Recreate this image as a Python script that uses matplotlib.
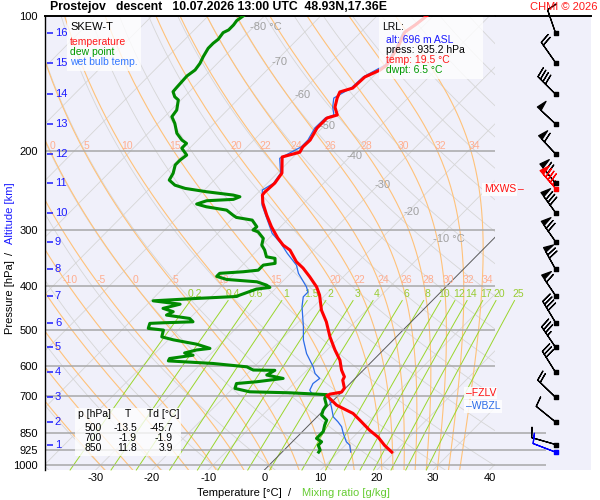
import numpy as np
import matplotlib
matplotlib.use('Agg')
import matplotlib.pyplot as plt
from matplotlib.transforms import Affine2D, blended_transform_factory, ScaledTranslation
from matplotlib.ticker import NullLocator
from matplotlib.patches import Rectangle

plt.rcParams['font.family'] = ['Liberation Sans', 'DejaVu Sans']
plt.rcParams['axes.unicode_minus'] = False

# ---- sounding (p in hPa, T in degC) ----
temp_p = [99.5, 104.7, 108.6, 117.2, 128.6, 131.9, 136.7, 144.7, 147.6, 152.3, 159.5, 166.1,
          168.7, 177.6, 188.9, 195.7, 201.0, 206.0, 223.7, 235.5, 246.6, 250.4, 260.9, 277.5,
          294.6, 312.1, 323.6, 332.0, 352.5, 364.1, 380.6, 400.8, 418.2, 451.9, 479.5, 518.0,
          554.0, 584.0, 614.0, 635.6, 646.7, 673.7, 687.6, 694.7, 700.0, 710.0, 735.0, 748.0,
          767.0, 794.0, 836.0, 867.0, 903.0, 935.2]
temp_t = [-51.1, -51.6, -52.2, -50.8, -49.6, -49.9, -51.4, -51.6, -53.2, -52.6, -51.4, -49.6,
          -50.9, -50.9, -50.0, -50.1, -49.7, -52.0, -49.2, -48.7, -48.9, -48.8, -47.3, -44.5,
          -41.6, -38.5, -36.3, -34.2, -31.0, -28.7, -26.0, -23.0, -21.0, -18.0, -15.1, -11.8,
          -8.6, -5.9, -3.9, -2.2, -1.9, -0.2, 0.0, -1.7, -2.0, -1.0, 1.4, 3.2,
          5.8, 8.2, 11.7, 14.5, 17.0, 19.5]

wetb_p = [99.5, 104.7, 109.1, 117.2, 128.6, 136.7, 144.7, 152.3, 159.5, 166.1, 168.7, 177.6,
          188.9, 195.7, 207.4, 224.0, 235.9, 244.0, 263.6, 284.7, 304.8, 320.8, 337.6, 358.6,
          374.0, 400.8, 411.7, 421.9, 443.6, 491.9, 526.0, 564.5, 604.0, 625.0, 641.0, 658.0,
          680.7, 692.0, 700.0, 716.5, 741.8, 780.8, 800.8, 821.0, 850.0, 887.0, 902.5, 935.2]
wetb_t = [-51.3, -51.8, -52.4, -51.1, -49.9, -51.7, -51.9, -53.2, -51.8, -50.2, -51.2, -51.3,
          -50.4, -50.4, -52.2, -49.4, -48.9, -49.7, -47.1, -43.5, -40.3, -37.0, -34.1, -30.4,
          -28.6, -24.8, -23.6, -23.6, -22.1, -18.3, -16.0, -13.0, -9.5, -8.0, -6.3, -6.6,
          -6.0, -5.1, -2.0, -0.7, 0.8, 2.9, 4.6, 6.1, 7.6, 9.6, 10.8, 12.2]

dwpt_p = [99.5, 102.4, 104.7, 107.4, 108.9, 112.7, 115.0, 118.0, 123.2, 127.5, 131.9, 136.0,
          140.1, 144.2, 147.4, 151.3, 153.8, 162.0, 167.6, 173.4, 182.4, 188.9, 192.1, 196.9,
          204.0, 209.3, 214.6, 224.0, 231.9, 238.0, 242.0, 246.2, 250.4, 252.6, 256.0, 257.8,
          262.2, 265.9, 270.5, 277.5, 280.8, 284.7, 294.6, 299.6, 302.3, 312.7, 323.6, 332.0,
          343.6, 346.4, 355.4, 358.6, 368.0, 371.0, 374.0, 379.9, 385.9, 390.6, 397.3, 402.0,
          405.5, 418.2, 421.1, 425.4, 430.6, 438.1, 447.6, 455.3, 463.3, 471.3, 479.5, 481.9,
          483.4, 495.9, 500.3, 518.0, 526.0, 537.8, 549.6, 554.0, 562.6, 569.1, 578.8, 585.9,
          593.7, 604.0, 614.0, 615.0, 630.0, 641.0, 652.0, 658.0, 674.7, 686.5, 690.0, 696.5,
          710.0, 735.0, 754.0, 773.6, 794.0, 814.0, 842.0, 871.8, 887.0, 902.5, 925.5, 935.2]
dwpt_t = [-83.7, -84.1, -83.9, -83.9, -84.4, -84.1, -84.3, -84.3, -83.7, -83.1, -82.8, -83.2,
          -83.1, -83.0, -82.9, -81.7, -80.5, -79.0, -78.7, -77.0, -74.9, -72.8, -71.4, -71.4,
          -69.3, -69.6, -69.6, -68.5, -68.0, -66.1, -63.7, -59.3, -54.0, -52.5, -53.2, -57.7,
          -58.9, -56.7, -52.5, -50.5, -49.5, -46.2, -44.2, -44.3, -43.1, -41.0, -40.1, -38.7,
          -37.2, -35.4, -34.5, -36.3, -36.3, -38.7, -42.6, -42.6, -40.3, -34.5, -32.2, -31.2,
          -33.3, -35.2, -35.5, -42.3, -49.6, -44.2, -46.5, -44.1, -44.7, -40.0, -38.8, -43.9,
          -46.2, -45.6, -42.6, -41.7, -39.1, -34.2, -31.1, -33.2, -34.8, -32.9, -36.5, -36.3,
          -27.9, -21.3, -19.6, -15.7, -16.3, -12.8, -16.9, -20.2, -19.6, -16.4, -9.1, -2.2,
          -1.9, -0.4, -0.1, 0.5, 2.3, 2.8, 3.7, 3.7, 5.2, 5.2, 6.4, 6.5]

# altitude marks (km) and the wind at those levels
alt_km = [16, 15, 14, 13, 12, 11, 10, 9, 8, 7, 6, 5, 4, 3, 2, 1]
alt_p = [109.3, 127.1, 149.4, 174.0, 202.9, 235.9, 274.2, 318.2, 366.7, 419.7, 481.9, 547.0,
         621.8, 706.7, 801.8, 899.5]
wind_dir = [341, 325, 315, 313, 317, 321, 324, 325, 331, 326, 329, 326, 328, 314, 309, 286]
wind_kt = [10, 20, 40, 50, 60, 70, 80, 70, 70, 60, 40, 35, 30, 20, 10, 10]
mxws_p, mxws_dir, mxws_kt = 243.0, 319, 85
sfc_p, sfc_dir, sfc_kt = 935.2, 291, 10

fzlv_p = 691.0
wbzl_p = 739.0

table_head = ['p [hPa]', 'T', 'Td [°C]']
table_p = ['500', '700', '850']
table_t = ['-13.5', '-1.9', '11.8']
table_td = ['-45.7', '-1.9', '3.9']

lrl_lines = ['alt: 696 m ASL', 'press: 935.2 hPa', 'temp: 19.5 °C', 'dwpt: 6.5 °C']

# background diagram
isobars = [200, 300, 400, 500, 600, 700, 850, 925, 1000]
p_ticks = [100, 200, 300, 400, 500, 600, 700, 850, 925, 1000]
t_ticks = [-30, -20, -10, 0, 10, 20, 30, 40]
isotherms = list(range(-120, 50, 10))
dry_theta = list(range(-40, 190, 10))
theta_w = [-30, -25, -20, -15, -10, -5, 0, 5, 10, 15, 20, 22, 24, 26, 28, 30, 32, 34]
mix_w = [0.2, 0.4, 0.6, 1, 1.5, 2, 3, 4, 6, 8, 10, 12, 14, 17, 20, 25]
mix_lab = ['0.2', '0.4', '0.6', '1', '1.5', '2', '3', '4', '6', '8', '10', '12', '14', '17', '20', '25']
iso_lab_t = [-80, -70, -60, -50, -40, -30, -20, -10]
iso_lab_p = [105.8, 126.6, 150.0, 176.0, 205.0, 238.0, 273.0, 314.0]

BG = '#f0f0fa'
P_BOT, P_TOP = 1025, 100


def dtdp(t, p):
    es = 6.112 * np.exp(17.67 * (t - 273.15) / (t - 29.65))
    rs = 0.622 * es / (p - es)
    num = 287.04 * t + 2.501e6 * rs
    den = 1005.7 + (2.501e6 ** 2 * rs * 0.622) / (287.04 * t * t)
    return num / den / p


def moist(tw, pg):
    t = np.array(tw, float) + 273.15
    out = [t.copy()]
    for p0, p1 in zip(pg[:-1], pg[1:]):
        h = p1 - p0
        k1 = dtdp(t, p0)
        k2 = dtdp(t + h * k1 / 2, p0 + h / 2)
        k3 = dtdp(t + h * k2 / 2, p0 + h / 2)
        k4 = dtdp(t + h * k3, p1)
        t = t + h * (k1 + 2 * k2 + 2 * k3 + k4) / 6
        out.append(t.copy())
    return np.array(out) - 273.15


def td_from_w(w, p):
    e = w * p / (622.0 + w)
    a = np.log(e / 6.112)
    return 243.5 * a / (17.67 - a)


fig = plt.figure(figsize=(6, 5), dpi=100)
ax = fig.add_axes([45 / 600, 30 / 500, 450 / 600, 454 / 500], facecolor=BG)
ax2 = fig.add_axes([495 / 600, 30 / 500, 96 / 600, 454 / 500], facecolor=BG)
ax.set_zorder(2)
for a in (ax, ax2):
    a.set_yscale('log')
    a.set_ylim(P_BOT, P_TOP)
    a.yaxis.set_minor_locator(NullLocator())
    a.set_autoscale_on(False)
ax.set_xlim(-39, 41)
ax2.set_xlim(0, 1)

skew = ax.transScale + ax.transLimits + Affine2D().skew_deg(45, 0) + ax.transAxes
yb = blended_transform_factory(ax.transAxes, ax.transData)

pp = np.geomspace(P_BOT, P_TOP, 120)
# isotherms and dry adiabats
for t in isotherms:
    if t == 0:
        ax.plot([0, 0], [P_BOT, P_TOP], color='#5a5a5a', lw=0.7, transform=skew, zorder=2)
    else:
        ax.plot([t, t], [P_BOT, P_TOP], color='#d6d6d6', lw=0.6, transform=skew, zorder=1)
for th in dry_theta:
    ax.plot((th + 273.15) * (pp / 1000.0) ** 0.2857 - 273.15, pp, color='#d6d6d6', lw=0.6,
            transform=skew, zorder=1)

# moist adiabats
p_up = np.linspace(1000, 100, 181)
p_dn = np.linspace(1000, 1030, 4)
m_up = moist(theta_w, p_up)
m_dn = moist(theta_w, p_dn)
p_all = np.concatenate([p_dn[::-1], p_up[1:]])
m_all = np.concatenate([m_dn[::-1], m_up[1:]])
for i, tw in enumerate(theta_w):
    ax.plot(m_all[:, i], p_all, color='#ffc27a', lw=0.8, transform=skew, zorder=1.5)
bb = ax.get_window_extent()
shift = skew + ScaledTranslation(0.05, 0, fig.dpi_scale_trans)
for prow in (194.8, 387.0):
    for i, tw in enumerate(theta_w):
        if tw < -10:
            continue
        tl = np.interp(prow, p_up[::-1], m_up[::-1, i])
        xd, yd = shift.transform((tl, prow))
        if bb.x0 + 4 < xd < bb.x1 - 4:
            ax.text(tl, prow, str(tw), transform=shift, color='#ffae90', fontsize=7.5,
                    ha='center', va='center', zorder=4)

# mixing ratio lines
pm = np.geomspace(P_BOT, 430, 40)
for w, lab in zip(mix_w, mix_lab):
    ax.plot(td_from_w(w, pm), pm, color='#9ad62c', lw=0.7, transform=skew, zorder=1.6,
            clip_on=False)
    ax.text(td_from_w(w, 416.0), 416.0, lab, transform=skew, color='#99cc33', fontsize=7.5,
            ha='center', va='center', zorder=4)

# isobars
for p in isobars:
    ax.axhline(p, color='#a8a8a8', lw=1.1, zorder=2.5)
ax2.hlines([850, 925, 1000], 0, 0.53, color='#a8a8a8', lw=1.1, zorder=1)

# isotherm labels
for t, p in zip(iso_lab_t, iso_lab_p):
    s = f'{t} °C' if t in (-80, -10) else str(t)
    ax.text(t - 0.7, p, s, transform=skew, color='#a0a0a0', fontsize=8, ha='left',
            va='center', zorder=4)

# profiles
ax.plot(wetb_t, wetb_p, color='#2a6be8', lw=0.9, transform=skew, zorder=5)
ax.plot(dwpt_t, dwpt_p, color='#008a00', lw=2.2, transform=skew, zorder=6)
ax.plot(temp_t, temp_p, color='#ff0000', lw=2.2, transform=skew, zorder=7)

# altitude marks
ax.hlines(alt_p, 0.004, 0.018, transform=yb, color='#1a1aff', lw=1.1, zorder=4)
for k, p in zip(alt_km, alt_p):
    ax.text(0.022, p, str(k), transform=yb, color='#1a1aff', fontsize=8, ha='left',
            va='center', zorder=4)

# levels
lvl_box = dict(facecolor='white', alpha=0.85, edgecolor='none', pad=1)
ax.text(0.935, fzlv_p, '–FZLV', transform=yb, color='#ff1010', fontsize=7.5, ha='left',
        va='center', bbox=lvl_box, zorder=8)
ax.text(0.935, wbzl_p, '–WBZL', transform=yb, color='#2a6be8', fontsize=7.5, ha='left',
        va='center', bbox=lvl_box, zorder=8)
ax.text(0.975, mxws_p, 'MXWS', transform=yb, color='#ff1010', fontsize=7.5, ha='left',
        va='center', bbox=lvl_box, zorder=8)
ax2.text(0.235, mxws_p, '–', color='#ff1010', fontsize=7.5, ha='left', va='center', zorder=8)

# axes cosmetics
for a in (ax, ax2):
    for s in ('right', 'bottom'):
        a.spines[s].set_visible(False)
    a.spines['top'].set_linewidth(1.4)
ax2.spines['left'].set_visible(False)
ax.spines['left'].set_linewidth(1.0)
ax.set_yticks(p_ticks)
ax.set_yticklabels([str(p) for p in p_ticks])
ax.set_xticks(t_ticks)
ax.set_xticklabels([str(t) for t in t_ticks])
ax.tick_params(axis='y', length=0, pad=5, labelsize=8)
ax.tick_params(axis='x', length=0, pad=2, labelsize=8)
ax2.set_xticks([])
ax2.set_yticks([])

# wind barbs
d = np.deg2rad(wind_dir)
u = -np.array(wind_kt) * np.sin(d)
v = -np.array(wind_kt) * np.cos(d)
bsz = dict(spacing=0.14, height=0.4, width=0.2)
xb = 0.632
ax2.barbs(np.full(len(alt_p), xb), alt_p, u, v, length=6, linewidth=0.9, color='k',
          sizes=bsz, clip_on=False, zorder=3)
ax2.scatter(np.full(len(alt_p), xb), alt_p, marker='s', s=7, color='k', zorder=4, clip_on=False)
for p, dd, sp, c in ((mxws_p, mxws_dir, mxws_kt, '#ff0000'), (sfc_p, sfc_dir, sfc_kt, '#0000ff')):
    r = np.deg2rad(dd)
    ax2.barbs([xb], [p], [-sp * np.sin(r)], [-sp * np.cos(r)], length=6, linewidth=0.9,
              color=c, sizes=bsz, clip_on=False, zorder=3)
    ax2.scatter([xb], [p], marker='s', s=7, color=c, zorder=4)

# boxes
for x0, y0, x1, y1 in ((67, 17, 141, 71), (379, 17, 483, 79), (75, 408, 181, 456)):
    fig.patches.append(Rectangle((x0 / 600, 1 - y1 / 500), (x1 - x0) / 600, (y1 - y0) / 500,
                                 transform=fig.transFigure, facecolor='white', alpha=0.78,
                                 edgecolor='none', zorder=3))


def ft(x, y, s, **kw):
    fig.text(x / 600, 1 - y / 500, s, va='center', zorder=4, **kw)


ft(70, 27, 'SKEW-T', fontsize=8, color='black')
ft(70, 42, 'temperature', fontsize=7.5, color='#ff1a1a')
ft(70, 52, 'dew point', fontsize=7.5, color='#009900')
ft(70, 62, 'wet bulb temp.', fontsize=7.5, color='#3377ff')

ft(382, 27, 'LRL:', fontsize=7.5, color='black')
for s, y, c in zip(lrl_lines, [40, 50, 60, 70], ['#1a1aff', 'black', '#ff1a1a', '#009900']):
    ft(386, y, s, fontsize=7.5, color=c)

ft(78, 414, table_head[0], fontsize=7.5)
ft(128, 414, table_head[1], fontsize=7.5, ha='center')
ft(147, 414, table_head[2], fontsize=7.5)
for i, y in enumerate([428, 438, 448]):
    ft(102, y, table_p[i], fontsize=7.5, ha='right')
    ft(137, y, table_t[i], fontsize=7.5, ha='right')
    ft(173, y, table_td[i], fontsize=7.5, ha='right')

ft(50, 7, 'Prostejov   descent   10.07.2026 13:00 UTC  48.93N,17.36E', fontsize=8.8,
   fontweight='bold')
ft(597, 7, 'CHMI © 2026', fontsize=8, color='#ff1a1a', ha='right')

ft(197, 493, 'Temperature [°C]  /', fontsize=8)
ft(302, 493, 'Mixing ratio [g/kg]', fontsize=8, color='#66cc33')
fig.text(10 / 600, 1 - 213 / 500, 'Altitude [km]', rotation=90, ha='center', va='center',
         fontsize=8, color='#1a1aff')
fig.text(10 / 600, 1 - 253 / 500, '/', rotation=90, ha='center', va='center', fontsize=8)
fig.text(10 / 600, 1 - 297 / 500, 'Pressure [hPa]', rotation=90, ha='center', va='center',
         fontsize=8)

fig.savefig('out.png', dpi=100)
